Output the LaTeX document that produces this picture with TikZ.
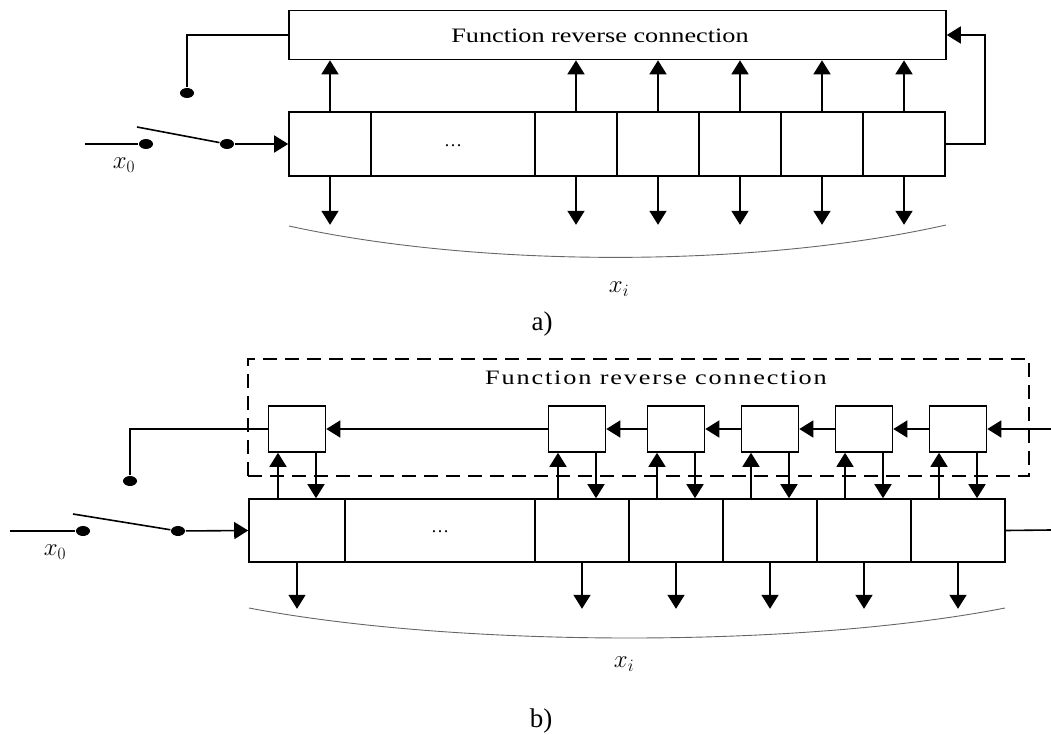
\documentclass[tikz,border=0pt]{standalone}
\usepackage{fontspec}
\setmainfont{Liberation Serif}
\usetikzlibrary{arrows.meta,shapes.geometric}

\begin{document}
\begin{tikzpicture}[x=1pt,y=-1pt,line width=1.6pt,
    fl/.style={-{Triangle[length=14pt,width=17pt]}},
    cellule/.style={draw,rectangle,inner sep=0pt},
    petit/.style={draw,rectangle,inner sep=0pt,minimum width=57pt,minimum height=46pt},
    plot/.style={fill,ellipse,inner sep=0pt,minimum width=14pt,minimum height=10pt},
    courbe/.style={line width=0.9pt,black!60},
    etiq/.style={font=\fontsize{27}{32}\selectfont},
    legende/.style={font=\fontsize{27}{32}\selectfont},
    titre/.style={font=\fontsize{20.5}{24}\selectfont\addfontfeature{FakeStretch=1.28}}]
    \useasboundingbox (0,0) rectangle (1051,735);

    % ---------------- a) ----------------
    % bloc de connexion inverse
    \node[cellule,minimum width=657pt,minimum height=49pt] (revA) at (617.5,35) {};
    \node[titre] (titreA) at (600,36) {Function reverse connection};

    % registre
    \node[cellule,minimum width=82pt,minimum height=64pt] (ra1) at (330,144) {};
    \node[cellule,minimum width=164pt,minimum height=64pt] (ra2) at (453,144) {\fontsize{18}{20}\selectfont\raisebox{-5pt}{\dots}};
    \foreach \i in {3,...,7}
        \node[cellule,minimum width=82pt,minimum height=64pt] (ra\i) at ({576+82*(\i-3)},144) {};

    % fleches vers le haut et sorties
    \foreach \i in {1,3,4,5,6,7} {
        \draw[fl] (ra\i.north) -- (ra\i.north |- revA.south);
        \draw[fl] (ra\i.south) -- ++(0,48);
    }
    % retour vers le bloc
    \draw[fl] (ra7.east) -- ++(39,0) |- (revA.east);

    % interrupteur
    \coordinate (ea) at (85,144);
    \coordinate (la) at (137,127);
    \node[plot] (pa1) at (146,144) {};
    \node[plot] (pa2) at (227,144) {};
    \node[plot] (pa3) at (187,93) {};
    \draw (ea) -- (pa1);
    \draw (la) -- (pa2);
    \draw[fl] (pa2) -- (ra1.west);
    \draw (pa3) |- (revA.west);

    % sorties x_i
    \draw[courbe] (289,226) .. controls (480,268) and (755,268) .. (946,225);
    \node[etiq] (xia) at (619,289) {$x_i$};
    \node[etiq] (x0a) at (124,165) {$x_0$};
    \node[legende] (capA) at (542,324) {a)};

    % ---------------- b) ----------------
    % cadre pointille
    \node[draw,dash pattern=on 14pt off 8pt,minimum width=781pt,minimum height=117pt] (revB) at (638.5,417.5) {};
    \node[titre,font=\fontsize{20.5}{24}\selectfont\addfontfeatures{FakeStretch=1.28,LetterSpace=9}] (titreB) at (656,378) {Function reverse connection};

    % petits blocs
    \foreach \x/\i in {297/1,577/3,676/4,770/5,864/6,958/7}
        \node[petit] (sb\i) at (\x,429) {};
    \foreach \i/\j in {1/3,3/4,4/5,5/6,6/7}
        \draw[fl] (sb\j.west) -- (sb\i.east);
    \coordinate (eb) at (1051,429);
    \draw[fl] (eb) -- (sb7.east);

    % registre
    \node[cellule,minimum width=96pt,minimum height=63pt] (rb1) at (297,530.5) {};
    \node[cellule,minimum width=190pt,minimum height=63pt] (rb2) at (440,530.5) {\fontsize{18}{20}\selectfont\raisebox{-5pt}{\dots}};
    \foreach \i in {3,...,7}
        \node[cellule,minimum width=94pt,minimum height=63pt] (rb\i) at ({582+94*(\i-3)},530.5) {};

    % liaisons registre <-> petits blocs
    \foreach \i in {1,3,4,5,6,7} {
        \coordinate (hb\i) at ([xshift=-19pt]sb\i.south);
        \coordinate (db\i) at ([xshift=19pt]sb\i.south);
        \draw[fl] (hb\i |- rb\i.north) -- (hb\i);
        \draw[fl] (db\i) -- (db\i |- rb\i.north);
        \draw[fl] (rb\i.south) -- ++(0,46);
    }
    \coordinate (sortB) at (1051,530);
    \draw (rb7.east) -- (sortB);

    % interrupteur
    \coordinate (eb0) at (10,531);
    \coordinate (lb) at (73,514);
    \node[plot] (pb1) at (83,531) {};
    \node[plot] (pb2) at (178,531) {};
    \node[plot] (pb3) at (130,481) {};
    \draw (eb0) -- (pb1);
    \draw (lb) -- (pb2);
    \draw[fl] (pb2) -- (rb1.west);
    \draw (pb3) |- (sb1.west);

    % sorties x_i
    \draw[courbe] (249,608) .. controls (460,648) and (800,648) .. (1005,608);
    \node[etiq] (xib) at (624,664) {$x_i$};
    \node[etiq] (x0b) at (55,552) {$x_0$};
    \node[legende] (capB) at (541,721) {b)};
\end{tikzpicture}
\end{document}
